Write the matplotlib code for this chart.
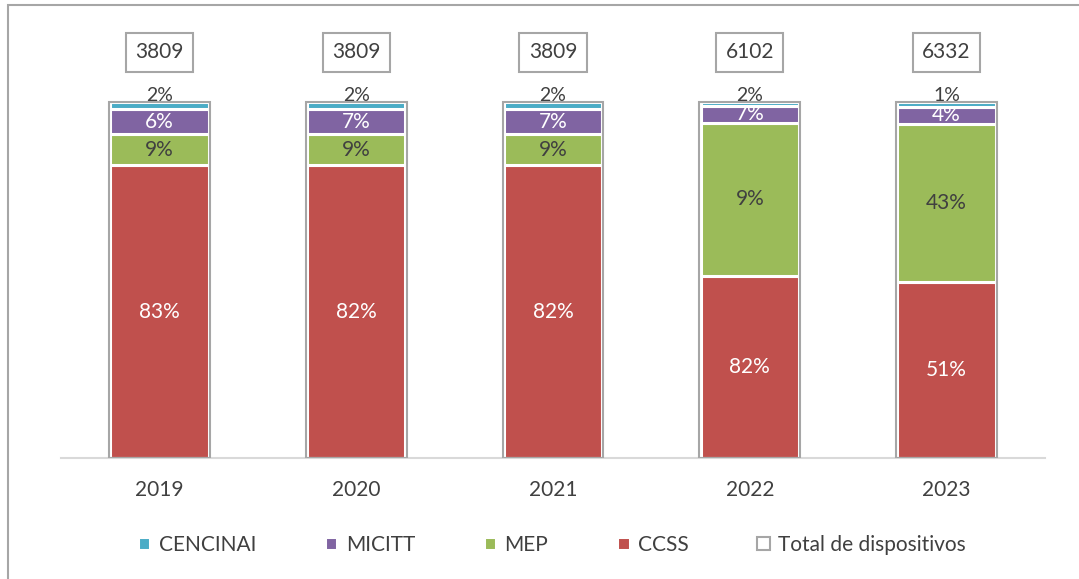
import numpy as np
import matplotlib.pyplot as plt
from matplotlib.patches import Rectangle

plt.rcParams['font.family'] = ['Lato', 'DejaVu Sans']

years = ['2019', '2020', '2021', '2022', '2023']
series = ['CENCINAI', 'MICITT', 'MEP', 'CCSS']

# segment heights as drawn (percent of the bar)
ccss = [82.3, 82.3, 82.3, 51.1, 49.4]
mep = [8.7, 8.7, 8.7, 43.1, 44.4]
micitt = [6.9, 6.9, 6.9, 4.6, 4.9]
cencinai = [2.1, 2.1, 2.1, 1.2, 1.3]

# data labels as printed on the chart
ccss_lbl = ['83%', '82%', '82%', '82%', '51%']
mep_lbl = ['9%', '9%', '9%', '9%', '43%']
micitt_lbl = ['6%', '7%', '7%', '7%', '4%']
cencinai_lbl = ['2%', '2%', '2%', '2%', '1%']

totals = [3809, 3809, 3809, 6102, 6332]

c_cen = '#4BACC6'
c_mic = '#8064A2'
c_mep = '#9BBB59'
c_ccss = '#C0504D'
grey = '#A6A6A6'
txt = '#404040'

fig = plt.figure(figsize=(10.79, 5.79), dpi=100)
W, H = 1079, 579

# outer chart frame
fig.patches.append(Rectangle((8 / W, -0.01), 1.0, 1 - 5 / H + 0.01, transform=fig.transFigure,
                             fill=False, edgecolor=grey, linewidth=1.5))

ax = fig.add_axes([61 / W, 1 - 458 / H, (1045 - 61) / W, (458 - 30) / H])
top = 100 * (458 - 30) / 356
ax.set_ylim(0, top)
ax.set_xlim(-0.5, 4.5)

x = np.arange(len(years))
w = 0.5
ew = 2.2

ccss = np.array(ccss)
mep = np.array(mep)
micitt = np.array(micitt)
cencinai = np.array(cencinai)

b_ccss = ax.bar(x, ccss, w, color=c_ccss, edgecolor='white', linewidth=ew, zorder=2)
b_mep = ax.bar(x, mep, w, bottom=ccss, color=c_mep, edgecolor='white', linewidth=ew, zorder=2)
b_mic = ax.bar(x, micitt, w, bottom=ccss + mep, color=c_mic, edgecolor='white', linewidth=ew, zorder=2)
b_cen = ax.bar(x, cencinai, w, bottom=ccss + mep + micitt, color=c_cen, edgecolor='white', linewidth=ew, zorder=2)

# total series drawn as an outline around each full bar
full = ccss + mep + micitt + cencinai
b_tot = ax.bar(x, full, w + 0.012, facecolor='none', edgecolor=grey, linewidth=1.5, zorder=3)

fs = 15
for i in range(len(years)):
    ax.text(x[i], ccss[i] / 2, ccss_lbl[i], ha='center', va='center', color='white', fontsize=fs, zorder=4)
    ax.text(x[i], ccss[i] + mep[i] / 2, mep_lbl[i], ha='center', va='center', color=txt, fontsize=fs, zorder=4)
    ax.text(x[i], ccss[i] + mep[i] + micitt[i] / 2, micitt_lbl[i], ha='center', va='center',
            color='white', fontsize=fs, zorder=4)
    ax.text(x[i], full[i] + 1.7, cencinai_lbl[i], ha='center', va='center', color=txt, fontsize=fs - 1, zorder=4)
    ax.text(x[i], 114, str(totals[i]), ha='center', va='center', color=txt, fontsize=fs, zorder=4,
            bbox=dict(boxstyle='square,pad=0.45', facecolor='white', edgecolor=grey, linewidth=1.5))

ax.set_xticks(x)
ax.set_xticklabels(years, fontsize=fs, color=txt)
ax.tick_params(axis='x', length=0, pad=16)
ax.set_yticks([])
for s in ['top', 'right', 'left']:
    ax.spines[s].set_visible(False)
ax.spines['bottom'].set_color('#D9D9D9')
ax.spines['bottom'].set_linewidth(1.5)

handles = [b_cen, b_mic, b_mep, b_ccss,
           Rectangle((0, 0), 1, 1, facecolor='white', edgecolor=grey, linewidth=1.5)]
labels = series + ['Total de dispositivos']
fig.legend(handles, labels, loc='center', bbox_to_anchor=(552 / W, 1 - 545 / H), ncol=5,
           frameon=False, fontsize=fs, handlelength=0.6, handleheight=0.6, handletextpad=0.4,
           columnspacing=3.3, labelcolor=txt)

fig.savefig('out.png', dpi=100)
